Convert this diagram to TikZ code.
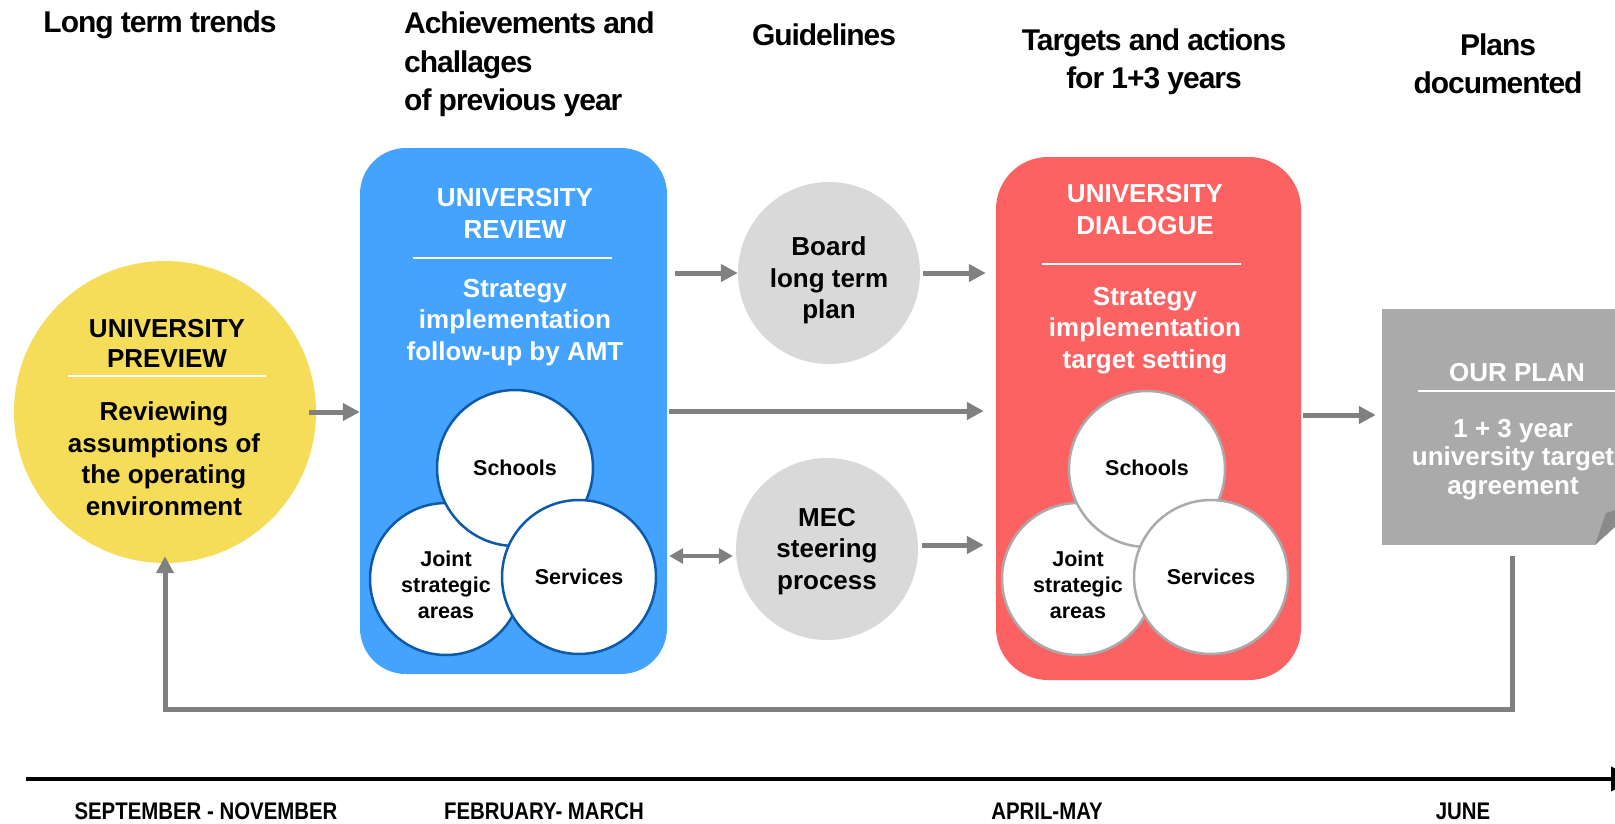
\documentclass[tikz,border=0pt]{standalone}
\usepackage{fontspec}
\setmainfont{Liberation Sans}
\newfontfamily\headfont{Liberation Sans}[LetterSpace=-3.5]
\newfontfamily\monthfont{Liberation Sans}[FakeStretch=0.85]
\usetikzlibrary{arrows.meta,calc}
\definecolor{cyel}{RGB}{245,221,90}
\definecolor{cblue}{RGB}{68,163,255}
\definecolor{cdblue}{RGB}{13,90,170}
\definecolor{cred}{RGB}{252,98,98}
\definecolor{clgray}{RGB}{217,217,217}
\definecolor{cmgray}{RGB}{170,170,170}
\definecolor{cfold}{RGB}{138,138,138}
\definecolor{carrow}{RGB}{128,128,128}
\tikzset{
  heading/.style={font=\headfont\bfseries\fontsize{30}{38.5}\selectfont, inner sep=0pt},
  body/.style={font=\bfseries\fontsize{26}{31.5}\selectfont, align=center, inner sep=0pt},
  title/.style={font=\bfseries\fontsize{26}{32}\selectfont, align=center, inner sep=0pt},
  small/.style={font=\bfseries\fontsize{21.5}{26}\selectfont, align=center, inner sep=0pt},
  month/.style={font=\monthfont\bfseries\fontsize{24}{28}\selectfont, inner sep=0pt},
  sep/.style={draw=white, line width=2.5pt},
  arr/.style={draw=carrow, line width=5pt, -{Triangle[length=17pt,width=17pt]}},
  darr/.style={draw=carrow, line width=3.5pt, {Triangle[length=14pt,width=15pt]}-{Triangle[length=14pt,width=15pt]}},
  bubble/.style={circle, inner sep=0pt, fill=white, line width=2.5pt},
  gcirc/.style={circle, inner sep=0pt, fill=clgray},
}
\begin{document}
\begin{tikzpicture}[x=1pt, y=-1pt]
\useasboundingbox (0,0) rectangle (1615,823);
\clip (0,0) rectangle (1615,823);
\fill[white] (0,0) rectangle (1615,823);

% headings
\node[heading] (h1) at (160,25) {Long term trends};
\node[heading, align=left, anchor=west] (h2) at (404,64.5) {Achievements and\\challages\\of previous year};
\node[heading] (h3) at (824,35) {Guidelines};
\node[heading, align=center] (h4) at (1154,61.5) {Targets and actions\\for 1+3 years};
\node[heading, align=center] (h5) at (1498,64) {Plans\\documented};

% university preview
\node[circle, fill=cyel, minimum size=302pt, inner sep=0pt] (prev) at (165,412) {};
\node[title, font=\bfseries\fontsize{26}{30}\selectfont] (prevT) at (167,343) {UNIVERSITY\\PREVIEW};
\draw[sep] (68,376) -- (266,376);
\node[body] (prevB) at (164,458.5) {Reviewing\\assumptions of\\the operating\\environment};

% university review
\node[rectangle, rounded corners=46pt, fill=cblue, minimum width=307pt, minimum height=526pt, inner sep=0pt] (review) at (513.5,411) {};
\node[title, text=white] (revT) at (515,213) {UNIVERSITY\\REVIEW};
\draw[sep] (413,258) -- (612,258);
\node[body, text=white] (revB) at (515,322.5) {Strategy\\implementation\\follow-up by AMT};
\node[bubble, draw=cdblue, minimum size=152pt] (rjoint) at (446,579) {};
\node[bubble, draw=cdblue, minimum size=156pt] (rschools) at (515,468) {};
\node[bubble, draw=cdblue, minimum size=154pt] (rserv) at (579,577) {};
\node[small] (rschoolsT) at (515,468) {Schools};
\node[small] (rjointT) at (446,585) {Joint\\strategic\\areas};
\node[small] (rservT) at (579,577) {Services};

% board and MEC
\node[gcirc, minimum size=182pt] (board) at (829,273) {};
\node[body] (boardT) at (829,280.5) {Board\\long term\\plan};
\node[gcirc, minimum size=182pt] (mec) at (827,549) {};
\node[body] (mecT) at (827,551.5) {MEC\\steering\\process};

% university dialogue
\node[rectangle, rounded corners=52pt, fill=cred, minimum width=305pt, minimum height=523pt, inner sep=0pt] (dialogue) at (1148.5,418.5) {};
\node[title, text=white] (dlgT) at (1145,210) {UNIVERSITY\\DIALOGUE};
\draw[sep] (1042,264) -- (1241,264);
\node[body, text=white] (dlgB) at (1145,330.5) {Strategy\\implementation\\target setting};
\node[bubble, draw=cmgray, minimum size=152pt] (djoint) at (1078,579) {};
\node[bubble, draw=cmgray, minimum size=156pt] (dschools) at (1147,469) {};
\node[bubble, draw=cmgray, minimum size=154pt] (dserv) at (1211,577) {};
\node[small] (dschoolsT) at (1147,468) {Schools};
\node[small] (djointT) at (1078,584.5) {Joint\\strategic\\areas};
\node[small] (dservT) at (1211,577) {Services};

% our plan
\node[rectangle, fill=cmgray, minimum width=258pt, minimum height=236pt, inner sep=0pt] (plan) at (1511,427) {};
\fill[white] (1595,545.5) -- (1645,545.5) -- (1645,495) -- cycle;
\fill[cfold] (1595,545) -- (1606,513) -- (1645,500) -- cycle;
\node[title, text=white] (planT) at (1517,373) {OUR PLAN};
\draw[sep] (1418,391) -- (1640,391);
\node[body, text=white, font=\bfseries\fontsize{26}{28.5}\selectfont] (planB) at (1513,459.5) {1 + 3 year\\university target\\agreement};

% connectors
\draw[arr, shorten <=-7pt] (prev.east) -- (prev.east -| review.west);
\draw[arr, shorten <=8pt] (board.west -| review.east) -- (board.west);
\draw[arr, shorten <=3pt, shorten >=10pt] (board.east) -- (board.east -| dialogue.west);
\draw[arr, shorten <=2pt, shorten >=12pt] (review.east) -- (review.east -| dialogue.west);
\coordinate (m1) at ([yshift=-7pt]mec.west);
\draw[darr, shorten <=2pt, shorten >=3pt] (m1 -| review.east) -- (m1);
\coordinate (m2) at ([yshift=4pt]mec.east);
\draw[arr, shorten <=4pt, shorten >=12pt] (m2) -- (m2 -| dialogue.west);
\coordinate (d1) at ([yshift=3.5pt]dialogue.east);
\draw[arr, shorten <=2pt, shorten >=6pt] (d1) -- (d1 -| plan.west);

% feedback loop
\coordinate (fb1) at (1512,556);
\coordinate (fb2) at (165,709);
\draw[arr, shorten >=-7pt] (fb1) |- (fb2) -- (prev.south);

% timeline
\coordinate (tl0) at (26,779);
\coordinate (tl1) at (1636,779);
\draw[line width=4pt, -{Triangle[length=25pt,width=24pt]}] (tl0) -- (tl1);
\node[month] (m_sep) at (206,811) {SEPTEMBER - NOVEMBER};
\node[month] (m_feb) at (544,811) {FEBRUARY- MARCH};
\node[month] (m_apr) at (1047,811) {APRIL-MAY};
\node[month] (m_jun) at (1463,811) {JUNE};
\end{tikzpicture}
\end{document}
